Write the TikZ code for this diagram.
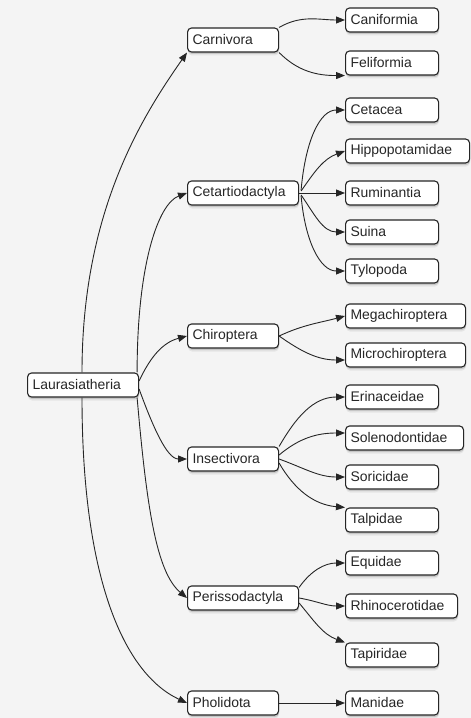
\documentclass[tikz,border=0pt]{standalone}
\usepackage{fontspec}
\setmainfont{Liberation Sans}
\usepackage{xcolor}
\usetikzlibrary{arrows.meta,shadows,calc}
\definecolor{paper}{RGB}{244,244,244}
\definecolor{ink}{RGB}{38,38,38}

\begin{document}
\begin{tikzpicture}[x=1bp, y=-1bp,
  taxon/.style={draw=ink, line width=1.1bp, rounded corners=4bp, fill=white,
    drop shadow={shadow xshift=0.5bp, shadow yshift=-3.5bp, opacity=0.12},
    drop shadow={shadow xshift=0.5bp, shadow yshift=-2bp, opacity=0.3},
    anchor=west, align=left, text width=#1, inner xsep=5bp, inner ysep=0pt,
    minimum height=24bp, text=ink, font=\fontsize{14}{16}\selectfont},
  link/.style={-{Triangle[length=9bp,width=7bp]}, line width=0.9bp, draw=ink}]
\fill[paper] (0,0) rectangle (471,718);
\useasboundingbox (0,0) rectangle (471,718);

\node[taxon=101bp] (laur) at (27,385) {Laurasiatheria};
\node[taxon=81bp] (carn) at (187,40) {Carnivora};
\node[taxon=101bp] (cetart) at (187,193) {Cetartiodactyla};
\node[taxon=81bp] (chir) at (187,336) {Chiroptera};
\node[taxon=81bp] (insect) at (187,459) {Insectivora};
\node[taxon=101bp] (periss) at (187,598) {Perissodactyla};
\node[taxon=81bp] (phol) at (187,703) {Pholidota};

\node[taxon=83bp] (canif) at (345,20) {Caniformia};
\node[taxon=83bp] (felif) at (345,63) {Feliformia};
\node[taxon=83bp] (cetacea) at (345,110) {Cetacea};
\node[taxon=114bp] (hippo) at (345,151) {Hippopotamidae};
\node[taxon=83bp] (rumin) at (345,193) {Ruminantia};
\node[taxon=83bp] (suina) at (345,232) {Suina};
\node[taxon=83bp] (tylop) at (345,271) {Tylopoda};
\node[taxon=110bp] (mega) at (345,316) {Megachiroptera};
\node[taxon=110bp] (micro) at (345,355) {Microchiroptera};
\node[taxon=83bp] (erin) at (345,397) {Erinaceidae};
\node[taxon=108bp] (soleno) at (345,438) {Solenodontidae};
\node[taxon=83bp] (soric) at (345,477) {Soricidae};
\node[taxon=83bp] (talp) at (345,520) {Talpidae};
\node[taxon=83bp] (equid) at (345,563) {Equidae};
\node[taxon=102bp] (rhino) at (345,606) {Rhinocerotidae};
\node[taxon=83bp] (tapir) at (345,655) {Tapiridae};
\node[taxon=83bp] (manid) at (345,703) {Manidae};

\draw[link] ($(laur.north west)+(55,0)$) to[out=90, in=235, out distance=160bp, in distance=80bp] (carn.south west);
\draw[link] ($(laur.north east)+(-2,0)$) to[out=90, in=200, out distance=110bp, in distance=30bp] (cetart.west);
\draw[link] ($(laur.east)+(0,-4)$) to[out=65, in=195] (chir.west);
\draw[link] ($(laur.east)+(0,4)$) to[out=-70, in=180, out distance=40bp, in distance=20bp] (insect.west);
\draw[link] ($(laur.south east)+(-2,0)$) to[out=-85, in=140, out distance=110bp, in distance=40bp] (periss.west);
\draw[link] ($(laur.south west)+(55,0)$) to[out=-90, in=155, out distance=180bp, in distance=70bp] (phol.west);

\draw[link] (carn.north east) to[out=30, in=180] (canif.west);
\draw[link] (carn.south east) to[out=-45, in=180] (felif.south west);

\draw[link] ($(cetart.east)+(2,-3)$) to[out=85, in=180, out distance=50bp, in distance=25bp] (cetacea.west);
\draw[link] ($(cetart.east)+(2,-2)$) to[out=55, in=200] (hippo.west);
\draw[link] (cetart.east) -- (rumin.west);
\draw[link] ($(cetart.east)+(2,2)$) to[out=-55, in=180] (suina.west);
\draw[link] ($(cetart.east)+(2,3)$) to[out=-85, in=180, out distance=45bp, in distance=25bp] (tylop.west);

\draw[link] (chir.east) to[out=25, in=195] (mega.west);
\draw[link] (chir.east) to[out=-35, in=180] ($(micro.west)+(0,5)$);

\draw[link] (insect.north east) to[out=60, in=180] (erin.west);
\draw[link] ($(insect.east)+(0,-4)$) to[out=40, in=180] ($(soleno.west)+(0,-5)$);
\draw[link] (insect.east) to[out=-20, in=180] (soric.west);
\draw[link] ($(insect.east)+(0,4)$) to[out=-60, in=175] (talp.north west);

\draw[link] ($(periss.north east)+(0,2)$) to[out=55, in=180] (equid.west);
\draw[link] (periss.east) to[out=-10, in=180] (rhino.west);
\draw[link] ($(periss.east)+(0,5)$) to[out=-50, in=160] (tapir.north west);

\draw[link] (phol) -- (manid);
\end{tikzpicture}
\end{document}
